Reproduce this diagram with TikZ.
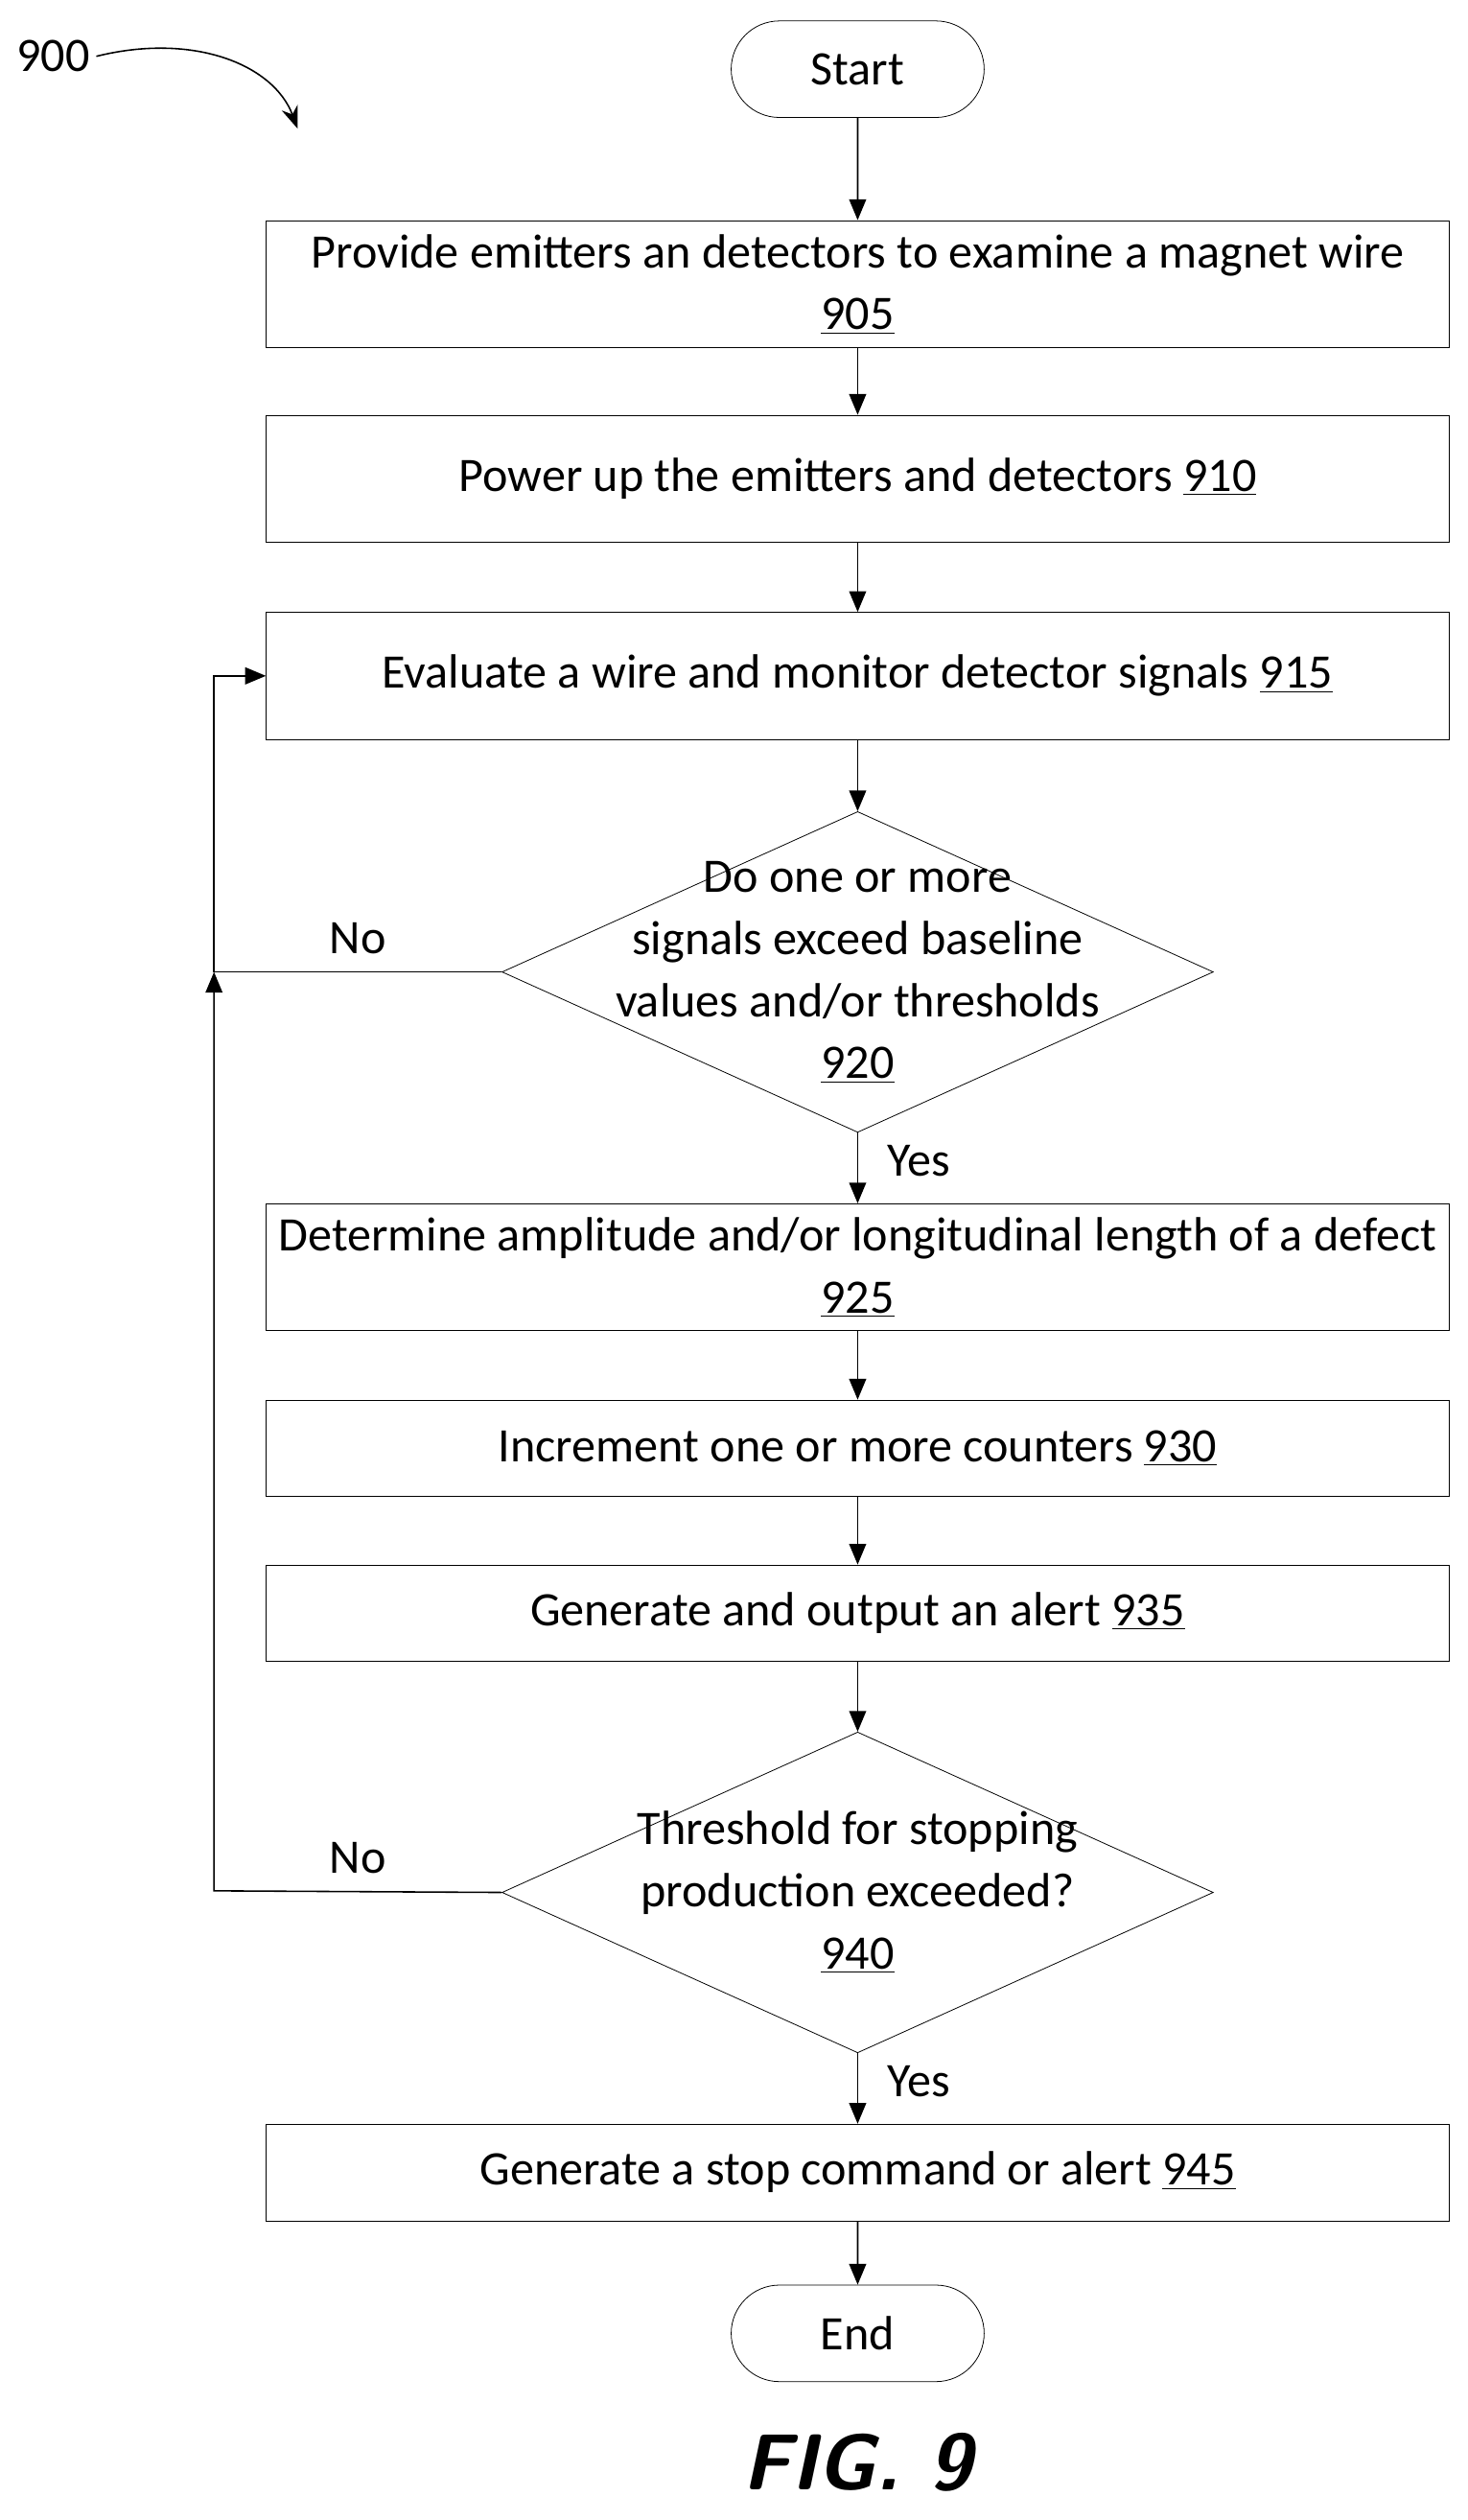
\documentclass[tikz,border=0pt]{standalone}
\usepackage{fontspec}
\setmainfont{Carlito}
\usetikzlibrary{shapes.geometric,shapes.misc,arrows.meta}
\tikzset{
  box/.style={draw,minimum width=22.05cm,minimum height=2.37cm,align=center},
  slim/.style={draw,minimum width=22.05cm,minimum height=1.8cm,align=center},
  term/.style={draw,rounded rectangle,minimum width=4.95cm,minimum height=1.8cm},
  dec/.style={draw,diamond,aspect=2.22,minimum width=13.26cm,minimum height=5.98cm,inner sep=0pt},
  flow/.style={-{Triangle[length=11pt,width=9pt]},thick}
}
\begin{document}
\begin{tikzpicture}[x=0.03cm,y=-0.03cm,font=\fontsize{25.5}{33}\selectfont]
  \useasboundingbox (0,0) rectangle (912,1566);
  % steps
  \node[term] (start) at (533,43) {Start};
  \node[box] (s905) at (533,176.5) {Provide emitters an detectors to examine a magnet wire\\\underline{905}};
  \node[box] (s910) at (533,297.5) {Power up the emitters and detectors \underline{910}};
  \node[box] (s915) at (533,420) {Evaluate a wire and monitor detector signals \underline{915}};
  \node[dec] (d920) at (533,604) {};
  \node[align=center] (t920) at (533,604) {Do one or more\\signals exceed baseline\\values and/or thresholds\\\underline{920}};
  \node[box] (s925) at (533,787.5) {Determine amplitude and/or longitudinal length of a defect\\\underline{925}};
  \node[slim] (s930) at (533,900) {Increment one or more counters \underline{930}};
  \node[slim] (s935) at (533,1002.5) {Generate and output an alert \underline{935}};
  \node[dec] (d940) at (533,1176) {};
  \node[align=center] (t940) at (533,1176) {Threshold for stopping\\production exceeded?\\\underline{940}};
  \node[slim] (s945) at (533,1350) {Generate a stop command or alert \underline{945}};
  \node[term] (end) at (533,1450) {End};
  \node (fig) at (533,1530) {\fontsize{42}{50}\selectfont\sffamily\bfseries\itshape FIG. 9};
  \node (lbl) at (33,35) {900};
  \coordinate (c1) at (133,604);
  \coordinate (c2) at (133,1175);
  \coordinate (c3) at (133,420);
  % connectors
  \draw[flow] (start) -- (s905);
  \draw[flow] (s905) -- (s910);
  \draw[flow] (s910) -- (s915);
  \draw[flow] (s915) -- (d920);
  \draw[flow] (d920) -- node[right=12pt,pos=0.4] {Yes} (s925);
  \draw[flow] (s925) -- (s930);
  \draw[flow] (s930) -- (s935);
  \draw[flow] (s935) -- (d940);
  \draw[flow] (d940) -- node[right=12pt,pos=0.4] {Yes} (s945);
  \draw[flow] (s945) -- (end);
  \draw[flow] (d920.west) -- node[above=6pt,pos=0.5] {No} (c1) -- (c3) -- (s915.west);
  \draw[flow] (d940.west) -- node[above=6pt,pos=0.5] {No} (c2) -- (c1);
  \draw[-{Stealth[length=12pt]},thick] (lbl.east) .. controls (120,20) and (170,40) .. (185,80);
\end{tikzpicture}
\end{document}
